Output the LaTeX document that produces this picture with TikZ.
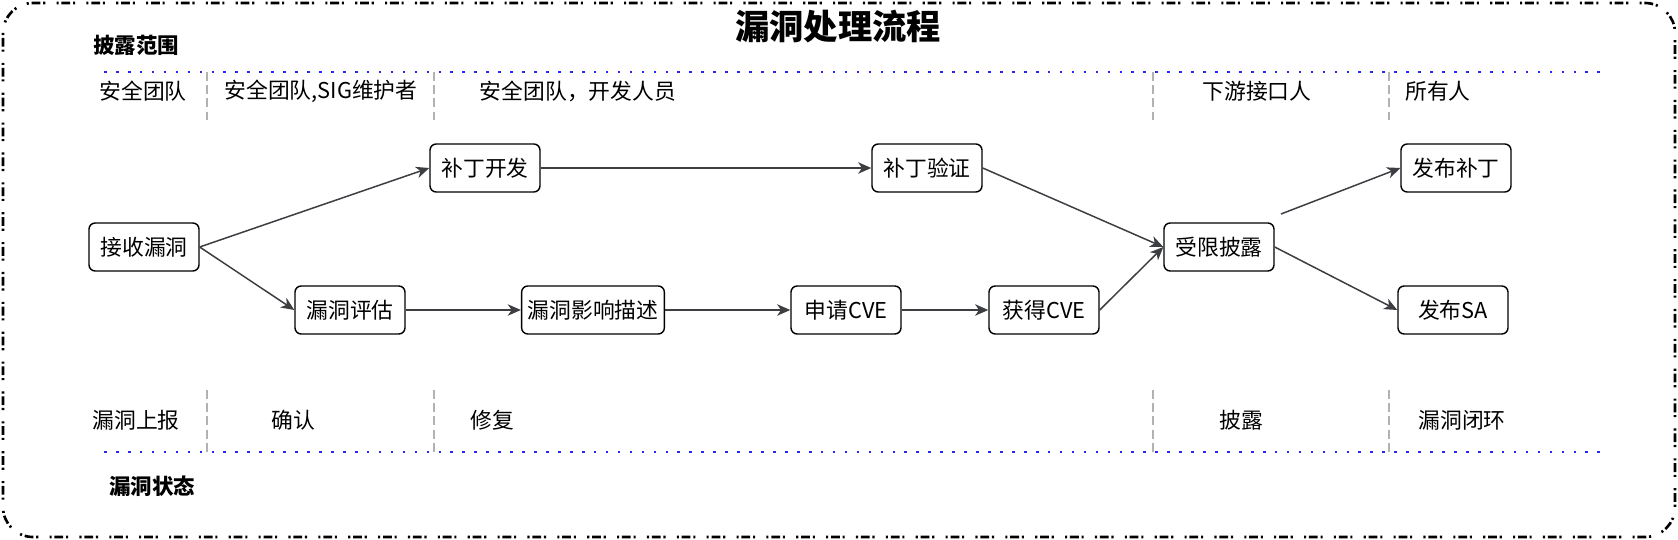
\documentclass[tikz,border=0pt]{standalone}
\usepackage{fontspec}
\setmainfont{Noto Sans CJK SC}
\usetikzlibrary{arrows.meta}
\definecolor{arrowc}{RGB}{60,62,66}
\definecolor{sepgray}{RGB}{178,178,178}
\definecolor{dotblue}{RGB}{40,40,245}
\tikzset{
  txt/.style={font=\fontsize{12.4}{14}\selectfont, inner sep=0pt},
  boldtxt/.style={font=\fontsize{12.2}{14}\selectfont\bfseries, inner sep=0pt},
  stepbox/.style={draw=black, line width=0.8pt, rounded corners=3.5pt, fill=white,
    minimum width=2.2cm, minimum height=0.96cm, inner xsep=0.12cm,
    font=\fontsize{12.4}{14}\selectfont},
  flow/.style={draw=arrowc, line width=0.85pt, -{Stealth[length=7.5pt,width=6.5pt,inset=2.2pt]}},
  sepline/.style={draw=sepgray, line width=1.3pt, dash pattern=on 5.2pt off 2.3pt},
  dotline/.style={draw=dotblue, line width=1.7pt, dash pattern=on 1.5pt off 5.3pt},
  frame/.style={draw=black, line width=1.5pt, rounded corners=0.6cm,
    dash pattern=on 1.2pt off 1.6pt on 5pt off 1.6pt on 1.2pt off 6.4pt},
}
\begin{document}
\begin{tikzpicture}[x=0.02cm, y=-0.02cm]
\useasboundingbox (0,0) rectangle (1678,540);
\draw[frame] (3,3) rectangle (1675,537);

\node[font=\fontsize{19.5}{22}\selectfont\bfseries, inner sep=0pt] (title) at (838,27) {漏洞处理流程};
\node[boldtxt] (scope) at (136,45) {披露范围};
\node[boldtxt] (state) at (152,486) {漏洞状态};

% dotted lines
\coordinate (tl) at (104,72);
\coordinate (tr) at (1602,72);
\coordinate (bl) at (104,452);
\coordinate (br) at (1602,452);
\draw[dotline] (tl) -- (tr);
\draw[dotline] (bl) -- (br);

% separators
\foreach \i/\x in {1/207,2/434,3/1153,4/1389}{
  \coordinate (st\i) at (\x,72);
  \coordinate (sb\i) at (\x,120);
  \coordinate (bt\i) at (\x,390);
  \coordinate (bb\i) at (\x,452);
  \draw[sepline] (st\i) -- (sb\i);
  \draw[sepline] (bt\i) -- (bb\i);
}

% top labels
\node[txt] (t1) at (143,91) {安全团队};
\node[txt] (t2) at (321,91) {安全团队,SIG维护者};
\node[txt] (t3) at (578,91) {安全团队，开发人员};
\node[txt] (t4) at (1257,91) {下游接口人};
\node[txt] (t5) at (1438,91) {所有人};

% bottom labels
\node[txt] (b1) at (136,420) {漏洞上报};
\node[txt] (b2) at (293,420) {确认};
\node[txt] (b3) at (492,420) {修复};
\node[txt] (b4) at (1241,420) {披露};
\node[txt] (b5) at (1462,420) {漏洞闭环};

% nodes
\node[stepbox] (jieshou) at (144,247) {接收漏洞};
\node[stepbox] (kaifa) at (485,168) {补丁开发};
\node[stepbox] (yanzheng) at (927,168) {补丁验证};
\node[stepbox] (pinggu) at (350,310) {漏洞评估};
\node[stepbox] (yingxiang) at (593,310) {漏洞影响描述};
\node[stepbox] (shenqing) at (846,310) {申请CVE};
\node[stepbox] (huode) at (1044,310) {获得CVE};
\node[stepbox] (shouxian) at (1219,247) {受限披露};
\node[stepbox] (fabubd) at (1456,168) {发布补丁};
\node[stepbox] (fabusa) at (1453,310) {发布SA};

% connectors
\draw[flow] (jieshou.east) -- (kaifa.west);
\draw[flow] (jieshou.east) -- (pinggu.west);
\draw[flow] (kaifa) -- (yanzheng);
\draw[flow] (pinggu) -- (yingxiang);
\draw[flow] (yingxiang) -- (shenqing);
\draw[flow] (shenqing) -- (huode);
\draw[flow] (yanzheng.east) -- (shouxian.west);
\draw[flow] (huode.east) -- (shouxian.west);
\coordinate (pstart) at (1281,214);
\draw[flow] (pstart) -- (fabubd.west);
\draw[flow] (shouxian.east) -- (fabusa.west);
\end{tikzpicture}
\end{document}
